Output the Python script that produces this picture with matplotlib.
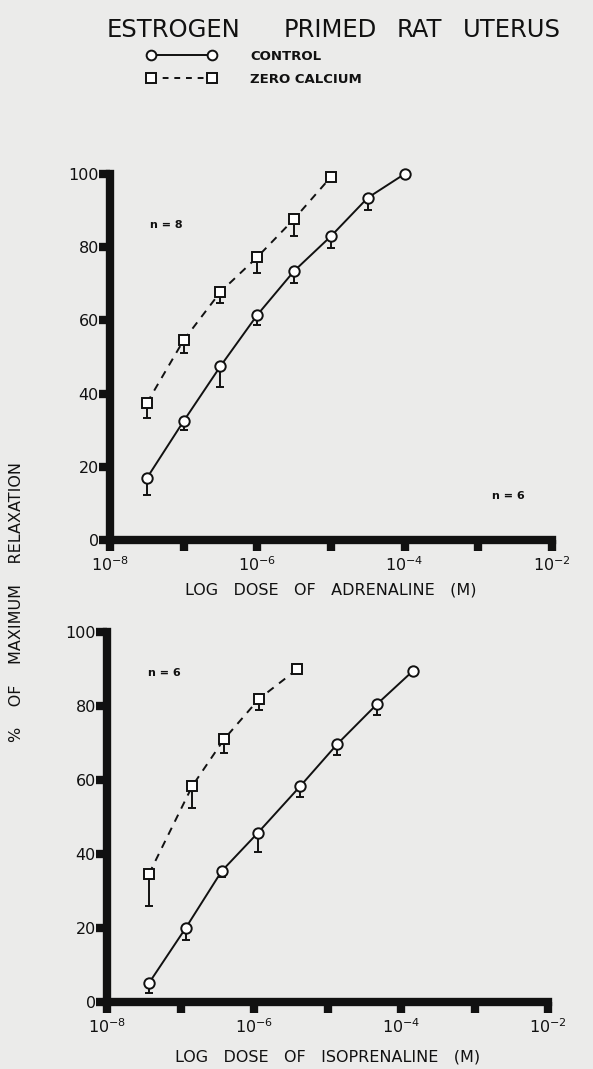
from matplotlib import pyplot as plt
from matplotlib.lines import Line2D
import numpy as np

# adrenaline (top panel), log10 molar dose
adr_ctrl_logdose = [-7.5, -7.0, -6.5, -6.0, -5.5, -5.0, -4.5, -4.0]
adr_ctrl = [16.9, 32.5, 47.5, 61.5, 73.5, 83.0, 93.5, 100.0]
adr_ctrl_err = [4.6, 2.5, 5.7, 2.8, 3.3, 3.2, 3.3, 0.0]
adr_zca_logdose = [-7.5, -7.0, -6.5, -6.0, -5.5, -5.0]
adr_zca = [37.4, 54.6, 67.8, 77.3, 87.7, 99.2]
adr_zca_err = [4.1, 3.6, 3.0, 4.3, 4.6, 0.0]

# isoprenaline (bottom panel)
iso_ctrl_logdose = [-7.43, -6.93, -6.44, -5.95, -5.37, -4.87, -4.33, -3.84]
iso_ctrl = [5.1, 20.0, 35.4, 45.7, 58.4, 69.7, 80.5, 89.5]
iso_ctrl_err = [2.7, 3.2, 1.6, 5.2, 3.0, 2.9, 2.9, 0.0]
iso_zca_logdose = [-7.43, -6.84, -6.41, -5.93, -5.41]
iso_zca = [34.6, 58.4, 71.0, 82.0, 90.0]
iso_zca_err = [8.6, 6.0, 3.7, 3.0, 0.0]

x_decades = [-8, -7, -6, -5, -4, -3, -2]
y_ticks = [0, 20, 40, 60, 80, 100]

ink = '#111111'
paper = '#ebebea'

fig = plt.figure(figsize=(5.93, 10.69), dpi=100, facecolor=paper)


def panel(rect, c_x, c_y, c_e, z_x, z_y, z_e, xlabel, lpad):
    ax = fig.add_axes(rect)
    ax.patch.set_alpha(0)
    ax.set_xscale('log')
    ax.set_xlim(1e-8, 1e-2)
    ax.set_ylim(0, 100)
    for s in ['top', 'right']:
        ax.spines[s].set_visible(False)
    for s in ['left', 'bottom']:
        ax.spines[s].set_linewidth(6)
        ax.spines[s].set_color(ink)
    ax.set_xticks([10.0**d for d in x_decades])
    ax.set_xticklabels([r'$10^{%d}$' % d if d % 2 == 0 else '' for d in x_decades])
    ax.minorticks_off()
    ax.set_yticks(y_ticks)
    ax.set_yticklabels([str(v) for v in y_ticks])
    ax.tick_params(axis='both', length=8, width=6, color=ink, labelcolor=ink,
                   labelsize=11.5)
    ax.tick_params(axis='x', pad=3)
    ax.tick_params(axis='y', pad=0)

    cx = 10.0 ** np.array(c_x)
    zx = 10.0 ** np.array(z_x)
    ax.errorbar(cx, c_y, yerr=[c_e, np.zeros(len(c_e))], fmt='none', ecolor=ink,
                elinewidth=1.4, capsize=3, capthick=1.4, clip_on=False, zorder=2)
    ax.errorbar(zx, z_y, yerr=[z_e, np.zeros(len(z_e))], fmt='none', ecolor=ink,
                elinewidth=1.4, capsize=3, capthick=1.4, clip_on=False, zorder=2)
    ax.plot(cx, c_y, '-', marker='o', color=ink, mfc='white', ms=7.5, mew=1.4,
            lw=1.4, clip_on=False, zorder=3)
    ax.plot(zx, z_y, marker='s', ls=(0, (4, 3.5)), color=ink, mfc='white', ms=7,
            mew=1.4, lw=1.4, clip_on=False, zorder=3)
    ax.set_xlabel(xlabel, fontsize=11.5, color=ink, labelpad=lpad)
    return ax


ax1 = panel([0.1855, 0.4948, 0.745, 0.3424],
            adr_ctrl_logdose, adr_ctrl, adr_ctrl_err,
            adr_zca_logdose, adr_zca, adr_zca_err,
            'LOG   DOSE   OF   ADRENALINE   (M)', 6)
ax1.text(0.09, 0.86, 'n = 8', transform=ax1.transAxes, fontsize=8,
         fontweight='bold', color=ink, va='center')
ax1.text(0.865, 0.12, 'n = 6', transform=ax1.transAxes, fontsize=8,
         fontweight='bold', color=ink, va='center')

ax2 = panel([0.1805, 0.0627, 0.744, 0.346],
            iso_ctrl_logdose, iso_ctrl, iso_ctrl_err,
            iso_zca_logdose, iso_zca, iso_zca_err,
            'LOG   DOSE   OF   ISOPRENALINE   (M)', 10)
ax2.text(0.093, 0.89, 'n = 6', transform=ax2.transAxes, fontsize=8,
         fontweight='bold', color=ink, va='center')

# title, word by word like the hand lettering
for word, xpx in [('ESTROGEN', 107), ('PRIMED', 284), ('RAT', 397), ('UTERUS', 463)]:
    fig.text(xpx / 593, 1 - 30 / 1069, word, fontsize=17.5, color=ink,
             ha='left', va='center')

fig.text(17 / 593, 1 - 602 / 1069, '%    OF    MAXIMUM    RELAXATION',
         rotation=90, fontsize=11.5, color=ink, ha='center', va='center')

handles = [
    Line2D([], [], color=ink, lw=1.4, marker='o', mfc='white', ms=7, mew=1.4),
    Line2D([], [], color=ink, lw=1.4, ls=(0, (3, 3)), marker='s', mfc='white',
           ms=6.5, mew=1.4),
]
leg = fig.legend(handles, ['CONTROL', 'ZERO CALCIUM'], numpoints=2, frameon=False,
                 loc='upper left', bbox_to_anchor=(147 / 593, 1 - 50 / 1069),
                 borderpad=0, borderaxespad=0, handlelength=5.2,
                 handletextpad=2.6, labelspacing=0.75,
                 prop={'weight': 'bold', 'size': 9.5})
for t in leg.get_texts():
    t.set_color(ink)

plt.savefig('out.png', dpi=100, facecolor=paper)
